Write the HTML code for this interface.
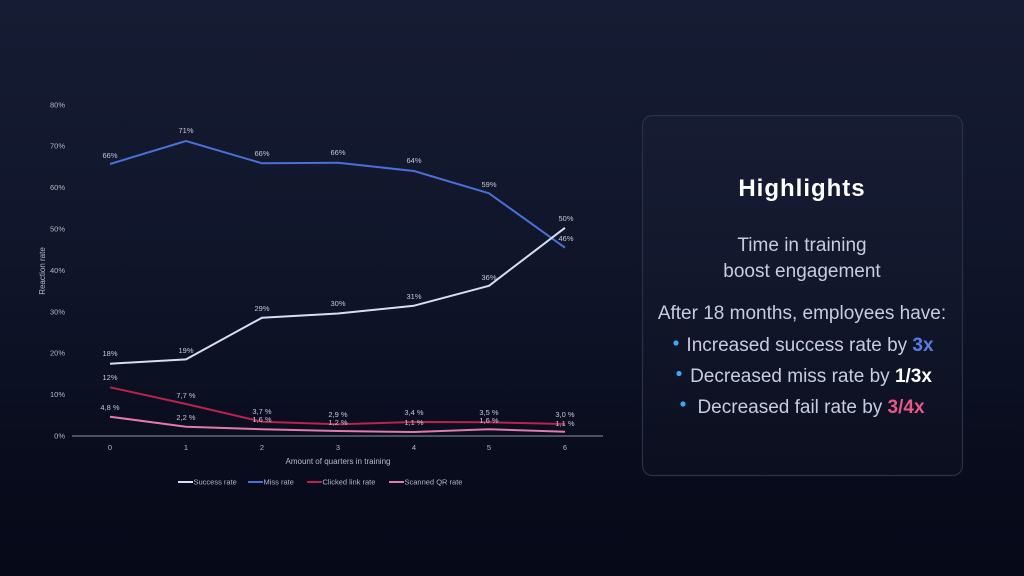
<!DOCTYPE html>
<html>
<head>
<meta charset="utf-8">
<style>
  html,body{margin:0;padding:0;}
  body{width:1024px;height:576px;overflow:hidden;background:linear-gradient(180deg,#161c33 0%,#10152a 45%,#070b1b 85%,#060a18 100%);font-family:"Liberation Sans",sans-serif;}
  svg{position:absolute;left:0;top:0;}
</style>
</head>
<body>
<svg width="1024" height="576" viewBox="0 0 1024 576" xmlns="http://www.w3.org/2000/svg">
  <!-- Y ticks -->
  <g font-family="Liberation Sans, sans-serif" font-size="7.5" fill="#b4b8c8" text-anchor="end">
    <text x="65" y="438.5">0%</text>
    <text x="65" y="397">10%</text>
    <text x="65" y="355.7">20%</text>
    <text x="65" y="314.3">30%</text>
    <text x="65" y="272.9">40%</text>
    <text x="65" y="231.5">50%</text>
    <text x="65" y="190.1">60%</text>
    <text x="65" y="148.7">70%</text>
    <text x="65" y="107.3">80%</text>
  </g>
  <text x="0" y="0" transform="translate(45,271) rotate(-90)" font-family="Liberation Sans, sans-serif" font-size="8" fill="#b4b8c8" text-anchor="middle">Reaction rate</text>

  <!-- axis -->
  <line x1="72" y1="436" x2="603" y2="436" stroke="#8d92a6" stroke-width="1"/>

  <g font-family="Liberation Sans, sans-serif" font-size="7.5" fill="#b4b8c8" text-anchor="middle">
    <text x="110" y="450">0</text>
    <text x="186" y="450">1</text>
    <text x="262" y="450">2</text>
    <text x="338" y="450">3</text>
    <text x="414" y="450">4</text>
    <text x="489" y="450">5</text>
    <text x="565" y="450">6</text>
  </g>
  <text x="338" y="464" font-family="Liberation Sans, sans-serif" font-size="8" fill="#b4b8c8" text-anchor="middle">Amount of quarters in training</text>

  <!-- series -->
  <polyline fill="none" stroke="#4a6fd6" stroke-width="2" stroke-linejoin="round" points="110,164 186,141 262,163.3 338,162.8 414,171 489,193.3 565,247.7"/>
  <polyline fill="none" stroke="#d8ddf6" stroke-width="2" stroke-linejoin="round" points="110,363.7 186,359.4 262,317.7 338,313.5 414,305.7 489,285.8 565,227.8"/>
  <polyline fill="none" stroke="#b8234f" stroke-width="2" stroke-linejoin="round" points="110,387.3 186,404 262,421.7 338,424.3 414,422 489,422.3 565,424"/>
  <polyline fill="none" stroke="#e27aab" stroke-width="2" stroke-linejoin="round" points="110,416.7 186,426.7 262,429.3 338,431 414,432 489,429.3 565,431.7"/>

  <!-- data labels -->
  <g font-family="Liberation Sans, sans-serif" font-size="7.5" fill="#c4c7d4" text-anchor="middle">
    <text x="110" y="158">66%</text>
    <text x="186" y="133">71%</text>
    <text x="262" y="156">66%</text>
    <text x="338" y="155">66%</text>
    <text x="414" y="163">64%</text>
    <text x="489" y="187">59%</text>
    <text x="566" y="221">50%</text>
    <text x="566" y="241">46%</text>

    <text x="110" y="356">18%</text>
    <text x="186" y="353">19%</text>
    <text x="262" y="311">29%</text>
    <text x="338" y="306">30%</text>
    <text x="414" y="299">31%</text>
    <text x="489" y="280">36%</text>

    <text x="110" y="380">12%</text>
    <text x="186" y="398">7,7 %</text>
    <text x="262" y="414">3,7 %</text>
    <text x="338" y="417">2,9 %</text>
    <text x="414" y="415">3,4 %</text>
    <text x="489" y="415">3,5 %</text>
    <text x="565" y="417">3,0 %</text>

    <text x="110" y="410">4,8 %</text>
    <text x="186" y="420">2,2 %</text>
    <text x="262" y="422">1,6 %</text>
    <text x="338" y="425">1,2 %</text>
    <text x="414" y="425">1,1 %</text>
    <text x="489" y="423">1,6 %</text>
    <text x="565" y="426">1,1 %</text>
  </g>

  <!-- legend -->
  <g font-family="Liberation Sans, sans-serif" font-size="7.5" fill="#b4b8c8">
    <line x1="178" y1="482" x2="193" y2="482" stroke="#d8ddf6" stroke-width="2"/>
    <text x="193.5" y="484.5">Success rate</text>
    <line x1="248" y1="482" x2="263" y2="482" stroke="#4a6fd6" stroke-width="2"/>
    <text x="263.5" y="484.5">Miss rate</text>
    <line x1="307" y1="482" x2="322" y2="482" stroke="#b8234f" stroke-width="2"/>
    <text x="322.5" y="484.5">Clicked link rate</text>
    <line x1="389" y1="482" x2="404" y2="482" stroke="#e27aab" stroke-width="2"/>
    <text x="404.5" y="484.5">Scanned QR rate</text>
  </g>

  <!-- highlights box -->
  <rect x="642.5" y="115.5" width="320" height="360" rx="10" ry="10" fill="rgba(255,255,255,0.015)" stroke="#2b3147" stroke-width="1.2"/>
  <text x="802" y="196" font-family="Liberation Sans, sans-serif" font-size="24" font-weight="bold" fill="#ffffff" text-anchor="middle" letter-spacing="1">Highlights</text>
  <g font-family="Liberation Sans, sans-serif" font-size="19" fill="#c7cce0" text-anchor="middle">
    <text x="802" y="251">Time in training</text>
    <text x="802" y="277">boost engagement</text>
    <text x="802" y="319">After 18 months, employees have:</text>
    <text x="810" y="351">Increased success rate by <tspan font-weight="bold" fill="#5b7de2">3x</tspan></text>
    <text x="811" y="382">Decreased miss rate by <tspan font-weight="bold" fill="#ffffff">1/3x</tspan></text>
    <text x="811" y="413">Decreased fail rate by <tspan font-weight="bold" fill="#e8578a">3/4x</tspan></text>
  </g>
  <circle cx="676" cy="343" r="2.6" fill="#3ea6f2"/>
  <circle cx="679" cy="373.5" r="2.6" fill="#3ea6f2"/>
  <circle cx="683" cy="404" r="2.6" fill="#3ea6f2"/>
</svg>
</body>
</html>
